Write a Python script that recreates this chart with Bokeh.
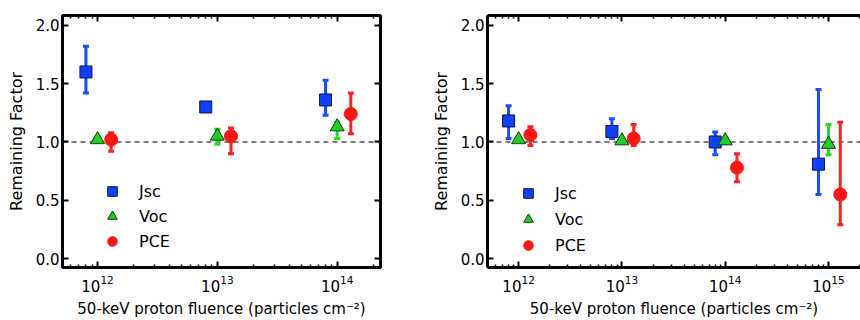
from bokeh.plotting import figure
from bokeh.models import (Range1d, LogAxis, LinearAxis, FixedTicker, PrintfTickFormatter,
                          Whisker, TeeHead, ColumnDataSource, Span, Legend, LegendItem)
from bokeh.layouts import row
from bokeh.embed import file_html
from bokeh.resources import INLINE

# ---------------- data ----------------
series_names = ["Jsc", "Voc", "PCE"]
x_label = "50-keV proton fluence (particles cm\u207b\u00b2)"
y_label = "Remaining Factor"
y_ticks = [0.0, 0.5, 1.0, 1.5, 2.0]

left_fluence = [1e12, 1e13, 1e14]
left_jsc = [1.60, 1.30, 1.36]
left_jsc_lo = [1.42, 1.28, 1.23]
left_jsc_hi = [1.82, 1.32, 1.53]
left_voc = [1.02, 1.05, 1.13]
left_voc_lo = [1.00, 0.98, 1.03]
left_voc_hi = [1.04, 1.11, 1.17]
left_pce = [1.02, 1.05, 1.24]
left_pce_lo = [0.92, 0.90, 1.07]
left_pce_hi = [1.08, 1.12, 1.42]

right_fluence = [1e12, 1e13, 1e14, 1e15]
right_jsc = [1.18, 1.09, 1.00, 0.81]
right_jsc_lo = [1.03, 1.03, 0.89, 0.55]
right_jsc_hi = [1.31, 1.20, 1.085, 1.45]
right_voc = [1.02, 1.01, 1.01, 0.98]
right_voc_lo = [1.00, 0.99, 0.99, 0.89]
right_voc_hi = [1.04, 1.03, 1.03, 1.15]
right_pce = [1.06, 1.03, 0.78, 0.55]
right_pce_lo = [0.97, 0.97, 0.66, 0.29]
right_pce_hi = [1.13, 1.15, 0.90, 1.17]

# ---------------- style ----------------
FONT = "DejaVu Sans"
styles = {
    "Jsc": dict(marker="square", size=12, fill="#0f40ff", line="#0a1450", err="#1a4dff", shift=0.8),
    "Voc": dict(marker="triangle", size=14, fill="#22cc22", line="#0b400b", err="#22dd22", shift=1.0),
    "PCE": dict(marker="circle", size=13, fill="#ff1414", line="#ff1414", err="#ff2020", shift=1.3),
}


def style_axis(ax, labels=True):
    ax.major_tick_in = 6
    ax.major_tick_out = 0
    ax.minor_tick_in = 3
    ax.minor_tick_out = 0
    ax.major_tick_line_width = 2
    ax.minor_tick_line_width = 1.5
    ax.major_tick_line_color = "black"
    ax.minor_tick_line_color = "black"
    if labels:
        ax.major_label_text_font = FONT
        ax.major_label_text_font_size = "15px"
        ax.major_label_text_color = "black"
        ax.axis_label_text_font = FONT
        ax.axis_label_text_font_size = "16px"
        ax.axis_label_text_font_style = "normal"
        ax.axis_label_text_color = "black"
    else:
        ax.formatter = PrintfTickFormatter(format="")
        ax.major_label_text_font_size = "1px"
        ax.major_label_text_alpha = 0
        ax.major_label_standoff = 0


def panel(fluence, data, xr, width, mb_right, right_frame, leg_loc, leg_spacing):
    p = figure(width=width, height=320, x_axis_type="log",
               x_range=Range1d(*xr), y_range=Range1d(-0.076, 2.084),
               output_backend="svg", toolbar_location=None,
               min_border_left=62, min_border_right=mb_right,
               min_border_top=15, min_border_bottom=51)
    p.grid.visible = False
    decades = [f for f in fluence] + [fluence[-1] * 10]
    minors = [k * f for f in [fluence[0] / 10] + decades for k in range(2, 10)]
    xt = FixedTicker(ticks=decades, minor_ticks=minors)
    yt = FixedTicker(ticks=y_ticks, minor_ticks=[])

    p.xaxis.ticker = xt
    p.yaxis.ticker = yt
    p.yaxis.formatter = PrintfTickFormatter(format="%.1f")
    p.xaxis.axis_label = x_label
    p.yaxis.axis_label = y_label
    for ax in p.xaxis + p.yaxis:
        style_axis(ax)
    p.xaxis.axis_label_text_font_size = "15px"
    p.xaxis.major_label_standoff = 7
    p.xaxis.axis_label_standoff = 5
    p.yaxis.major_label_standoff = 3
    p.yaxis.axis_label_standoff = 7

    top = LogAxis(ticker=xt)
    style_axis(top, labels=False)
    p.add_layout(top, "above")
    axes = [top] + list(p.xaxis) + list(p.yaxis)
    if right_frame:
        rax = LinearAxis(ticker=yt)
        style_axis(rax, labels=False)
        p.add_layout(rax, "right")
        axes.append(rax)
        p.outline_line_color = "black"
        p.outline_line_width = 3
        for ax in axes:
            ax.axis_line_color = None
    else:
        p.outline_line_color = None
        for ax in axes:
            ax.axis_line_color = "black"
            ax.axis_line_width = 3

    p.add_layout(Span(location=1.0, dimension="width", line_color="#505050",
                      line_dash="5 4", line_width=1.5, level="underlay"))

    items = []
    for name in series_names:
        st = styles[name]
        y, lo, hi = data[name]
        src = ColumnDataSource(dict(x=[f * st["shift"] for f in fluence], y=y, lo=lo, hi=hi))
        w = Whisker(source=src, base="x", lower="lo", upper="hi", dimension="height",
                    line_color=st["err"], line_width=3, level="underlay",
                    upper_head=TeeHead(size=6, line_color=st["err"], line_width=3),
                    lower_head=TeeHead(size=6, line_color=st["err"], line_width=3))
        p.add_layout(w)
        r = p.scatter("x", "y", source=src, marker=st["marker"], size=st["size"],
                      fill_color=st["fill"], line_color=st["line"], line_width=1)
        items.append(LegendItem(label=name, renderers=[r]))

    leg = Legend(items=items, location=leg_loc, border_line_color=None,
                 background_fill_alpha=0, padding=0, margin=0, spacing=leg_spacing,
                 glyph_width=24, glyph_height=24, label_height=20, label_standoff=15,
                 label_text_font=FONT, label_text_font_size="16px", label_text_color="black")
    p.add_layout(leg)
    return p


p1 = panel(left_fluence,
           {"Jsc": (left_jsc, left_jsc_lo, left_jsc_hi),
            "Voc": (left_voc, left_voc_lo, left_voc_hi),
            "PCE": (left_pce, left_pce_lo, left_pce_hi)},
           (5.1e11, 2.3e14), 425, 45, True, (38, 14), 1)
p2 = panel(right_fluence,
           {"Jsc": (right_jsc, right_jsc_lo, right_jsc_hi),
            "Voc": (right_voc, right_voc_lo, right_voc_hi),
            "PCE": (right_pce, right_pce_lo, right_pce_hi)},
           (5.0e11, 2.04e15), 435, 0, False, (29, 10), 2)

layout = row(p1, p2, spacing=0)
open("out.html", "w").write(file_html(layout, INLINE))
